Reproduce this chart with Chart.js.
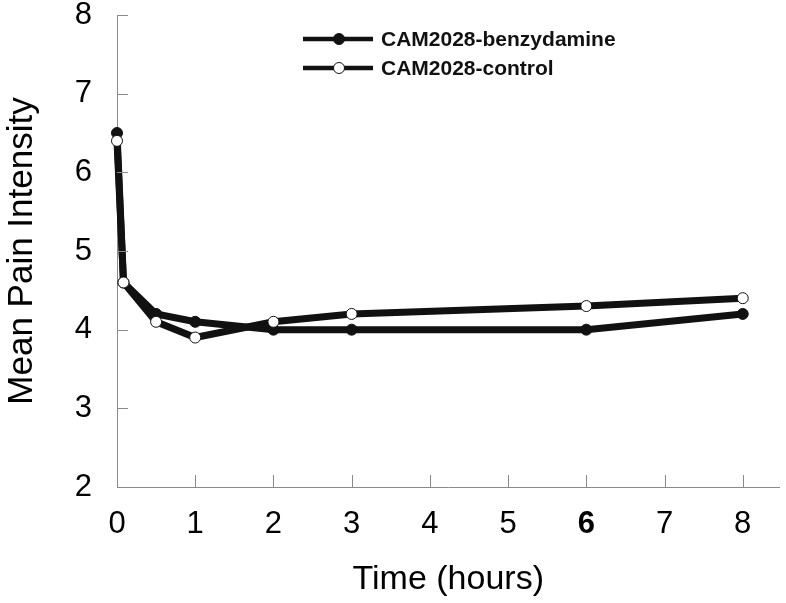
<!DOCTYPE html>
<html>
<head>
<meta charset="utf-8">
<script src="https://cdn.jsdelivr.net/npm/chart.js@4"></script>
<style>
  body { margin: 0; background: #fff; }
  canvas { display: block; }
</style>
</head>
<body>
<canvas id="chart" width="786" height="603"></canvas>
<script>
// Valores
const hours = [0, 0.083, 0.5, 1, 2, 3, 6, 8];
const benzydamine = [6.5, 4.6, 4.2, 4.1, 4.0, 4.0, 4.0, 4.2];
const control = [6.4, 4.6, 4.1, 3.9, 4.1, 4.2, 4.3, 4.4];
const xTicks = [0, 1, 2, 3, 4, 5, 6, 7, 8];
const yTicks = [2, 3, 4, 5, 6, 7, 8];

const toPoints = (ys) => hours.map((h, i) => ({ x: h, y: ys[i] }));
const FONT = '"Liberation Sans", Arial, sans-serif';

// marcas dos eixos para dentro
const innerTicks = {
    id: 'innerTicks',
    afterDraw(chart) {
        const c = chart.ctx;
        const x = chart.scales.x, y = chart.scales.y;
        c.save();
        c.strokeStyle = '#8a8a8a';
        c.lineWidth = 1;
        c.beginPath();
        x.ticks.forEach(t => {
            if (t.value === 0) return;
            const px = Math.round(x.getPixelForValue(t.value)) + 0.5;
            c.moveTo(px, y.bottom);
            c.lineTo(px, y.bottom - 12);
        });
        y.ticks.forEach(t => {
            if (t.value === 2) return;
            const py = Math.round(y.getPixelForValue(t.value)) + 0.5;
            c.moveTo(x.left, py);
            c.lineTo(x.left + 11, py);
        });
        c.stroke();
        c.restore();
    }
};

// legenda com linha e marcador no meio
const lineLegend = {
    id: 'lineLegend',
    afterDraw(chart) {
        const c = chart.ctx;
        c.save();
        chart.data.datasets.forEach((ds, i) => {
            const yy = 39 + i * 29;
            c.strokeStyle = '#111';
            c.lineWidth = 4.5;
            c.beginPath();
            c.moveTo(303, yy);
            c.lineTo(373, yy);
            c.stroke();
            c.beginPath();
            c.arc(339, yy, 5.5, 0, Math.PI * 2);
            c.fillStyle = ds.pointBackgroundColor;
            c.fill();
            c.lineWidth = 1;
            c.stroke();
            c.fillStyle = '#111';
            c.font = 'bold 21px ' + FONT;
            c.textBaseline = 'middle';
            c.fillText(ds.label, 381, yy + 1);
        });
        c.restore();
    }
};

const ctx = document.getElementById('chart').getContext('2d');
const chart = new Chart(ctx, {
    type: 'line',
    data: {
        datasets: [{
            label: 'CAM2028-benzydamine',
            data: toPoints(benzydamine),
            borderColor: '#111',
            borderWidth: 7,
            pointRadius: 5.5,
            pointBorderWidth: 1,
            pointBorderColor: '#111',
            pointBackgroundColor: '#111',
            clip: false,
            order: 1
        }, {
            label: 'CAM2028-control',
            data: toPoints(control),
            borderColor: '#111',
            borderWidth: 7,
            pointRadius: 5.5,
            pointBorderWidth: 1,
            pointBorderColor: '#111',
            pointBackgroundColor: '#fff',
            clip: false,
            order: 0
        }]
    },
    options: {
        responsive: false,
        animation: false,
        layout: { padding: { top: 15, right: 6, left: 0, bottom: 0 } },
        plugins: {
            legend: { display: false },
            tooltip: { enabled: false }
        },
        scales: {
            x: {
                type: 'linear',
                min: 0,
                max: 8.47,
                afterFit: (s) => { s.height = 116; s.paddingLeft = 0; s.paddingRight = 0; },
                afterBuildTicks: (s) => { s.ticks = xTicks.map(v => ({ value: v })); },
                grid: { display: false, drawTicks: false },
                border: { display: true, color: '#8a8a8a', width: 1 },
                ticks: {
                    padding: 19,
                    color: '#000',
                    font: (c) => ({
                        family: FONT,
                        size: 31,
                        weight: c.tick && c.tick.value === 6 ? 'bold' : 'normal'
                    })
                },
                title: {
                    display: true,
                    text: 'Time (hours)',
                    color: '#000',
                    font: { family: FONT, size: 34 },
                    padding: { top: 0, bottom: 3 }
                }
            },
            y: {
                min: 2,
                max: 8,
                afterFit: (s) => { s.width = 117; s.paddingTop = 0; s.paddingBottom = 0; },
                afterBuildTicks: (s) => { s.ticks = yTicks.map(v => ({ value: v })); },
                grid: { display: false, drawTicks: false },
                border: { display: true, color: '#8a8a8a', width: 1 },
                ticks: {
                    padding: 25,
                    color: '#000',
                    font: { family: FONT, size: 31 }
                },
                title: {
                    display: true,
                    text: 'Mean Pain Intensity',
                    color: '#000',
                    font: { family: FONT, size: 35 },
                    padding: { top: 1, bottom: 0 }
                }
            }
        }
    },
    plugins: [innerTicks, lineLegend]
});
</script>
</body>
</html>
